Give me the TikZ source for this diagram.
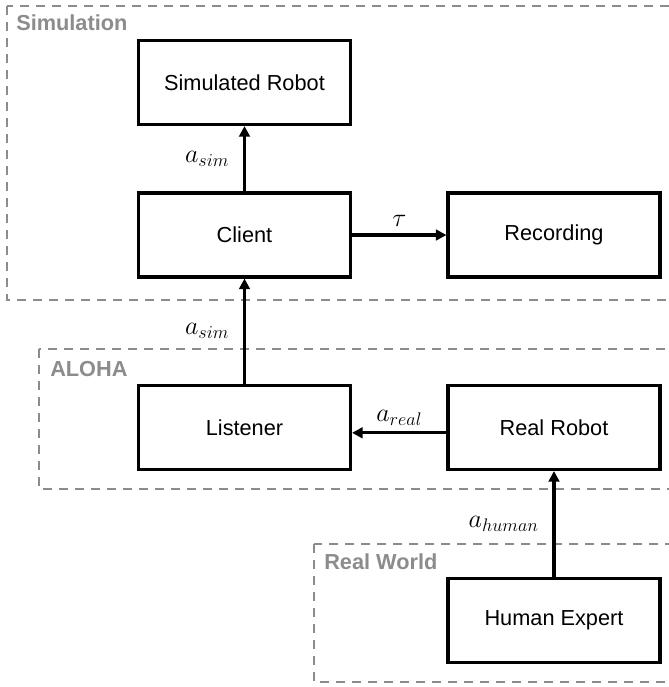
\RequirePackage{fix-cm}
\documentclass[tikz,border=0pt]{standalone}
\usepackage{fontspec}
\setmainfont{Liberation Sans}
\usetikzlibrary{arrows.meta}
\definecolor{regiongray}{RGB}{140,140,140}

\begin{document}
\begin{tikzpicture}[x=0.75pt, y=-0.75pt,
    block/.style={draw, line width=2.3pt, minimum width=159pt, minimum height=63pt, font=\fontsize{16.3}{19}\selectfont},
    region/.style={draw=regiongray, line width=1.1pt, dash pattern=on 7pt off 5pt},
    regionlabel/.style={anchor=base west, text=regiongray, inner sep=0pt, font=\fontsize{16.3}{19}\selectfont\bfseries},
    flow/.style={line width=2.3pt, -{Triangle[length=8pt,width=8pt]}},
    flowlabel/.style={font=\fontsize{19.5}{22}\selectfont}]
    \clip (0,0) rectangle (669,687);

    % dashed regions
    \draw[region] (7,6) rectangle (700,300);
    \node[regionlabel] (simtitle) at (16,30) {Simulation};
    \draw[region] (39,349) rectangle (700,489);
    \node[regionlabel] (alohatitle) at (50,376) {ALOHA};
    \draw[region] (314,544) rectangle (700,682);
    \node[regionlabel] (worldtitle) at (324,569) {Real World};

    % blocks
    \node[block] (simrobot) at (244.5,82.5) {Simulated Robot};
    \node[block] (client) at (244.5,235) {Client};
    \node[block] (recording) at (554,235) {Recording};
    \node[block] (listener) at (244.5,427.5) {Listener};
    \node[block] (realrobot) at (554,427.5) {Real Robot};
    \node[block] (human) at (554,620.5) {Human Expert};

    % data flow
    \draw[flow] (client) -- (simrobot) node[flowlabel, midway, left=7pt] {$a_{sim}$};
    \draw[flow] (client) -- (recording) node[flowlabel, midway, above=2pt] {$\tau$};
    \draw[flow] (listener) -- (client) node[flowlabel, midway, left=7pt] {$a_{sim}$};
    \draw[flow] ([yshift=-4pt]realrobot.west) -- ([yshift=-4pt]listener.east) node[flowlabel, midway, above=1pt] {$a_{real}$};
    \draw[flow] (human) -- (realrobot) node[flowlabel, midway, left=7pt] {$a_{human}$};
\end{tikzpicture}
\end{document}
